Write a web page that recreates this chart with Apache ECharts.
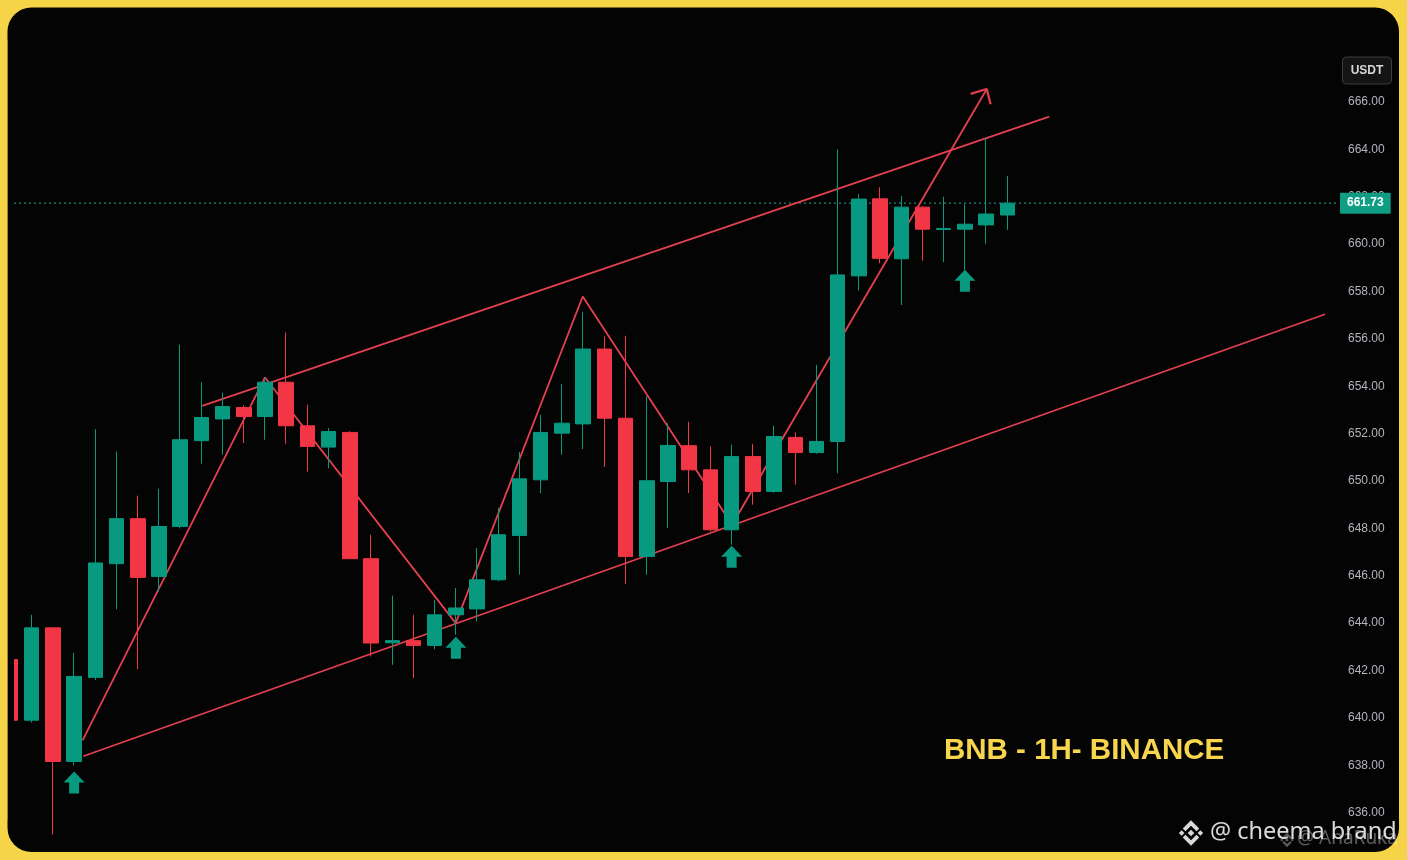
<!DOCTYPE html>
<html>
<head>
<meta charset="utf-8">
<script src="https://cdn.jsdelivr.net/npm/echarts@6.0.0/dist/echarts.min.js"></script>
<style>
  html, body { margin: 0; padding: 0; background: #f5d547; }
  #chart { width: 1407px; height: 860px; }
</style>
</head>
<body>
<div id="chart"></div>
<script>
// BNB/USDT hourly candles (index = hour slot)
const opens  = [642.46, 639.90, 643.80, 638.16, 641.71, 646.51, 648.41, 645.97, 648.08, 651.70,
                652.62, 653.10, 652.72, 654.17, 652.33, 651.43, 652.05, 646.72, 643.17, 643.26,
                643.06, 644.35, 644.60, 645.83, 647.70, 650.05, 652.02, 652.41, 655.57, 652.65,
                646.81, 649.98, 651.49, 650.47, 647.94, 651.03, 649.56, 651.84, 651.20, 651.67,
                658.66, 661.91, 659.38, 661.56, 660.62, 660.63, 660.81, 661.23];
const closes = [639.90, 643.80, 638.16, 641.75, 646.54, 648.41, 645.93, 648.08, 651.74, 652.68,
                653.14, 652.72, 654.17, 652.33, 651.46, 652.09, 646.72, 643.16, 643.26, 643.06,
                644.35, 644.64, 645.83, 647.73, 650.09, 652.05, 652.44, 655.57, 652.65, 646.81,
                650.01, 651.50, 650.47, 647.94, 651.03, 649.56, 651.88, 651.20, 651.67, 658.70,
                661.90, 659.40, 661.56, 660.63, 660.66, 660.84, 661.27, 661.73];
const lows   = [639.80, 639.80, 635.07, 638.00, 641.60, 644.59, 642.06, 645.34, 648.00, 650.73,
                651.11, 651.60, 651.74, 651.57, 650.40, 650.54, 646.70, 642.59, 642.24, 641.68,
                642.90, 643.51, 644.07, 645.77, 646.04, 649.49, 651.11, 651.35, 650.59, 645.66,
                646.04, 648.01, 649.49, 647.87, 647.31, 649.00, 649.50, 649.84, 651.15, 650.33,
                658.04, 659.19, 657.43, 659.30, 659.24, 658.91, 660.01, 660.60];
const highs  = [642.60, 644.35, 643.80, 642.74, 652.19, 651.24, 649.38, 649.67, 655.75, 654.17,
                653.73, 653.20, 654.37, 656.27, 653.22, 652.23, 652.10, 647.73, 645.16, 644.35,
                644.99, 645.48, 647.17, 648.88, 651.22, 652.79, 654.10, 657.15, 656.10, 656.13,
                653.57, 652.44, 652.50, 651.46, 651.53, 651.57, 652.33, 652.05, 654.90, 664.00,
                662.12, 662.40, 662.03, 661.60, 662.00, 661.68, 664.47, 662.88];

const lastPrice = 661.73;

// Drawn annotations, as [hour slot, price]
const lowerChannel = [[3.43, 638.38], [61.98, 657.04]];
const upperChannel = [[9.04, 653.17], [48.98, 665.38]];
const zigzag = [[3.40, 639.05], [12.00, 654.37], [20.99, 644.00], [26.98, 657.79], [34.02, 648.15], [46.03, 666.55]];
const arrowHead = [[45.27, 666.34], [46.03, 666.55], [46.21, 665.90]];
const buySignals = [[3, 637.27], [21, 642.96], [34, 646.80], [45, 658.45]];

const X_MIN = 0.165, X_MAX = 62.59;
const UP = '#089981', DOWN = '#f23645', DRAW = '#e5404f';

const candles = opens.map((o, i) => [i, o, closes[i], lows[i], highs[i]]);

const chart = echarts.init(document.getElementById('chart'), null, { renderer: 'canvas' });

function trendLine(points, width) {
  return {
    type: 'line',
    data: points,
    symbol: 'none',
    silent: true,
    clip: false,
    z: 1,
    lineStyle: { color: DRAW, width: width || 1.8 }
  };
}

// Binance-style logo made of small polygons
function logo(cx, cy, s, color) {
  const shapes = [
    [[0, -3], [3, 0], [0, 3], [-3, 0]],
    [[-8.5, -2.5], [-6, 0], [-8.5, 2.5], [-11, 0]],
    [[8.5, -2.5], [11, 0], [8.5, 2.5], [6, 0]],
    [[0, -11.5], [7.5, -4], [5, -1.5], [0, -6.5], [-5, -1.5], [-7.5, -4]],
    [[0, 11.5], [7.5, 4], [5, 1.5], [0, 6.5], [-5, 1.5], [-7.5, 4]]
  ];
  return shapes.map(pts => ({
    type: 'polygon',
    z: 100,
    shape: { points: pts.map(p => [cx + p[0] * s, cy + p[1] * s]) },
    style: { fill: color }
  }));
}

const option = {
  animation: false,
  backgroundColor: '#f5d547',
  grid: { left: 14, right: 69, top: 54.6, height: 805.8, containLabel: false },
  xAxis: {
    type: 'value',
    min: X_MIN,
    max: X_MAX,
    show: false
  },
  yAxis: {
    type: 'value',
    position: 'right',
    min: 634,
    max: 668,
    interval: 2,
    axisLine: { show: false },
    axisTick: { show: false },
    splitLine: { show: false },
    axisLabel: {
      show: true,
      showMinLabel: false,
      showMaxLabel: false,
      margin: 10,
      padding: [4, 0, 0, 0],
      color: '#b2b5be',
      fontSize: 12,
      fontFamily: 'Liberation Sans',
      formatter: v => v.toFixed(2)
    }
  },
  series: [
    // last price line with its axis tag
    {
      type: 'line',
      data: [[X_MIN, lastPrice], [X_MAX, lastPrice]],
      symbol: 'none',
      silent: true,
      z: 1,
      lineStyle: { color: '#22a88f', width: 1, type: [2, 3] },
      endLabel: {
        show: true,
        distance: 2,
        formatter: p => p.value[1].toFixed(2),
        backgroundColor: '#0f9e83',
        color: '#ffffff',
        fontSize: 12,
        fontWeight: 'bold',
        fontFamily: 'Liberation Sans',
        padding: [5, 7, 4, 7],
        borderRadius: 1
      }
    },
    trendLine(lowerChannel),
    trendLine(upperChannel),
    trendLine(zigzag),
    trendLine(arrowHead, 2.2),
    {
      type: 'candlestick',
      data: candles,
      encode: { x: 0, y: [1, 2, 3, 4] },
      barWidth: 15,
      clip: true,
      z: 3,
      itemStyle: {
        color: UP,
        color0: DOWN,
        borderColor: UP,
        borderColor0: DOWN,
        borderWidth: 1
      }
    },
    {
      type: 'scatter',
      data: buySignals,
      z: 4,
      silent: true,
      symbol: 'path://M10.5,0 L21,11 L15.5,11 L15.5,22 L5.5,22 L5.5,11 L0,11 Z',
      symbolSize: [21, 22],
      itemStyle: { color: UP, opacity: 1 }
    }
  ],
  graphic: [
    // chart panel inside the yellow frame
    { type: 'rect', z: -10, shape: { x: 7.5, y: 7.5, width: 1391.5, height: 844.5, r: 24 }, style: { fill: '#040404' } },
    // left edge of the plot: hide the part of the first candle past the pane
    { type: 'rect', z: 90, shape: { x: 7.5, y: 40, width: 6.5, height: 780 }, style: { fill: '#040404' } },
    { type: 'rect', z: 90, shape: { x: 0, y: 40, width: 7.5, height: 780 }, style: { fill: '#f5d547' } },
    // currency badge
    {
      type: 'rect', z: 100,
      shape: { x: 1342.5, y: 57, width: 49, height: 27, r: 4 },
      style: { fill: '#141414', stroke: '#3c3c3c', lineWidth: 1 }
    },
    {
      type: 'text', z: 101, x: 1367, y: 71,
      style: { text: 'USDT', fill: '#d8d8d8', font: 'bold 12px "Liberation Sans"', align: 'center', verticalAlign: 'middle' }
    },
    // chart caption
    {
      type: 'text', z: 100, x: 944, y: 751,
      style: { text: 'BNB - 1H- BINANCE', fill: '#f7d54c', font: 'bold 29.5px "Liberation Sans"', align: 'left', verticalAlign: 'middle' }
    },
    // watermarks
    ...logo(1287, 840, 0.62, 'rgba(255,255,255,0.35)'),
    {
      type: 'text', z: 100, x: 1297, y: 839,
      style: { text: '@ AnaRuka', fill: 'rgba(255,255,255,0.35)', font: '19px "Noto Sans"', align: 'left', verticalAlign: 'middle' }
    },
    ...logo(1191, 833, 1.1, 'rgba(255,255,255,0.85)'),
    {
      type: 'text', z: 101, x: 1210, y: 832,
      style: { text: '@ cheema brand', fill: 'rgba(255,255,255,0.85)', font: '23.5px "Noto Sans"', align: 'left', verticalAlign: 'middle' }
    }
  ]
};

chart.setOption(option);
</script>
</body>
</html>
